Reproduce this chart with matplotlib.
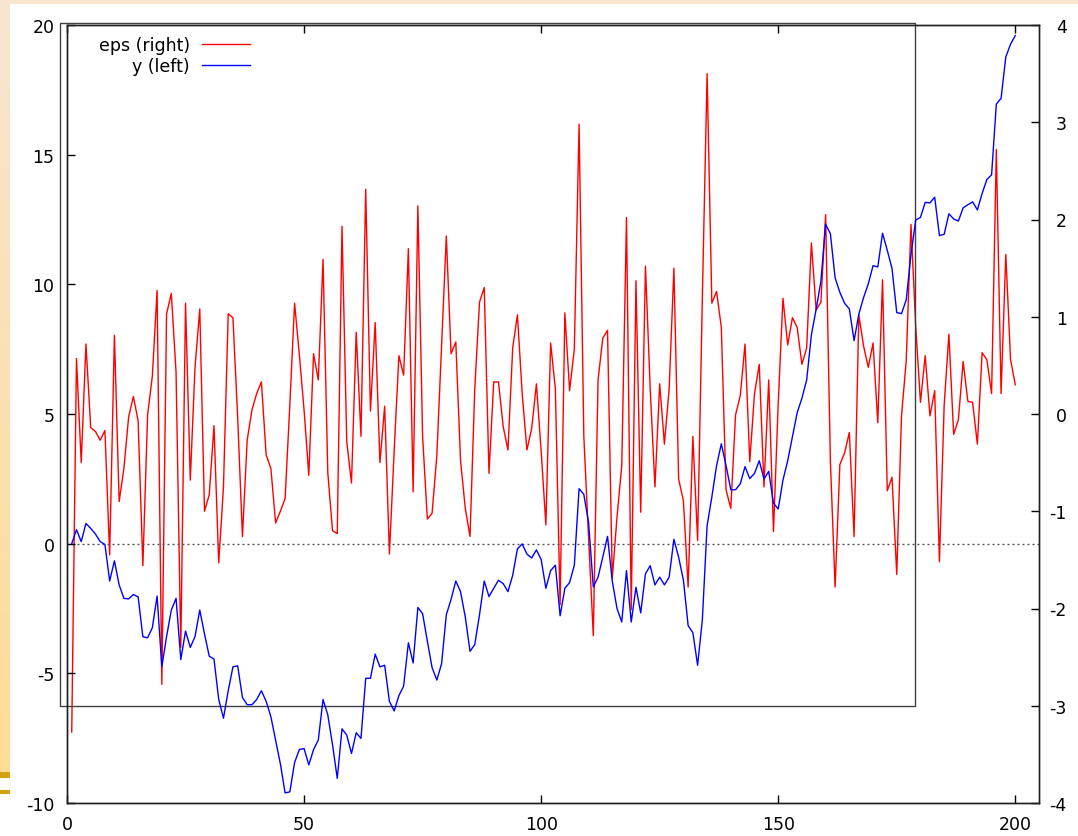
import numpy as np
import matplotlib
matplotlib.use("Agg")
import matplotlib.pyplot as plt
from matplotlib.patches import Rectangle

# ===================== 数据 =====================
# eps：白噪声（右轴），y：累积序列（左轴），t = 1..200
EPS = [
    -3.27, 0.57, -0.50, 0.72, -0.14, -0.18, -0.27, -0.17, -1.45, 0.81,
    -0.90, -0.56, -0.03, 0.18, -0.07, -1.56, -0.01, 0.39, 1.27, -2.78,
    1.03, 1.24, 0.43, -2.40, 1.14, -0.68, 0.48, 1.08, -1.00, -0.83,
    -0.12, -1.53, -0.75, 1.03, 0.99, -0.04, -1.26, -0.27, 0.04, 0.21,
    0.33, -0.42, -0.56, -1.12, -1.00, -0.87, 0.10, 1.14, 0.61, 0.04,
    -0.63, 0.62, 0.35, 1.59, -0.60, -1.20, -1.23, 1.93, -0.28, -0.71,
    0.84, -0.23, 2.31, 0.03, 0.94, -0.50, 0.08, -1.44, -0.38, 0.60,
    0.40, 1.70, -0.80, 2.14, -0.23, -1.08, -1.02, -0.43, 0.71, 1.83,
    0.62, 0.74, -0.48, -0.97, -1.26, 0.26, 1.15, 1.30, -0.61, 0.33,
    0.33, -0.13, -0.37, 0.68, 1.02, 0.21, -0.37, -0.15, 0.31, -0.38,
    -1.14, 0.73, 0.26, -1.96, 1.04, 0.24, 0.67, 2.98, -0.23, -1.27,
    -2.28, 0.35, 0.78, 0.86, -1.69, -1.06, -0.53, 2.02, -2.01, 1.37,
    -1.01, 1.52, 0.26, -0.75, 0.31, -0.31, 0.26, 1.50, -0.67, -0.89,
    -1.78, -0.23, -1.30, 1.20, 3.50, 1.14, 1.26, 0.89, -0.78, -0.97,
    -0.01, 0.19, 0.72, -0.49, 0.21, 0.51, -0.75, 0.35, -1.21, 0.11,
    1.19, 0.71, 0.99, 0.89, 0.51, 0.68, 1.76, 1.07, 1.15, 2.05,
    -0.48, -1.78, -0.52, -0.40, -0.19, -1.26, 1.02, 0.70, 0.48, 0.73,
    -0.09, 1.38, -0.79, -0.65, -1.65, -0.02, 0.55, 1.95, 0.90, 0.12,
    0.60, -0.02, 0.24, -1.52, 0.09, 0.82, -0.21, -0.06, 0.54, 0.13,
    0.12, -0.31, 0.63, 0.56, 0.21, 2.72, 0.21, 1.64, 0.56, 0.30,
]

Y = [
    0.00, 0.54, 0.08, 0.78, 0.59, 0.37, 0.08, -0.03, -1.44, -0.66,
    -1.59, -2.11, -2.13, -1.96, -2.05, -3.59, -3.63, -3.24, -2.02, -4.75,
    -3.58, -2.56, -2.11, -4.47, -3.37, -4.00, -3.58, -2.56, -3.48, -4.34,
    -4.45, -6.01, -6.73, -5.67, -4.75, -4.71, -5.93, -6.21, -6.21, -6.01,
    -5.67, -6.08, -6.67, -7.57, -8.49, -9.61, -9.57, -8.44, -7.94, -7.90,
    -8.53, -7.94, -7.57, -6.01, -6.60, -7.75, -9.05, -7.14, -7.38, -8.09,
    -7.29, -7.51, -5.19, -5.19, -4.26, -4.75, -4.69, -6.08, -6.45, -5.86,
    -5.49, -3.82, -4.60, -2.46, -2.70, -3.76, -4.78, -5.26, -4.63, -2.74,
    -2.15, -1.44, -1.85, -2.83, -4.15, -3.89, -2.74, -1.44, -2.04, -1.72,
    -1.41, -1.54, -1.85, -1.22, -0.20, -0.01, -0.40, -0.55, -0.24, -0.61,
    -1.72, -1.04, -0.83, -2.78, -1.72, -1.50, -0.83, 2.12, 1.90, 0.82,
    -1.67, -1.29, -0.52, 0.28, -1.44, -2.50, -3.02, -1.04, -3.02, -1.68,
    -2.67, -1.16, -0.85, -1.59, -1.29, -1.59, -1.29, 0.17, -0.52, -1.40,
    -3.16, -3.43, -4.69, -2.93, 0.69, 1.80, 3.01, 3.85, 3.01, 2.08,
    2.08, 2.31, 2.97, 2.51, 2.71, 3.20, 2.49, 2.79, 1.56, 1.34,
    2.45, 3.20, 4.12, 5.05, 5.61, 6.31, 8.06, 9.04, 10.12, 12.32,
    11.95, 10.25, 9.69, 9.27, 9.05, 7.83, 8.85, 9.49, 10.02, 10.72,
    10.67, 11.97, 11.31, 10.61, 8.91, 8.87, 9.40, 11.15, 12.48, 12.58,
    13.16, 13.14, 13.36, 11.88, 11.93, 12.72, 12.52, 12.44, 12.95, 13.07,
    13.18, 12.87, 13.50, 14.04, 14.22, 16.95, 17.17, 18.77, 19.26, 19.59,
]

T = np.arange(1, len(Y) + 1)

X_TICKS = [0, 50, 100, 150, 200]
Y_TICKS = [-10, -5, 0, 5, 10, 15, 20]
Y2_TICKS = [-4, -3, -2, -1, 0, 1, 2, 3, 4]

FS = 12.5
plt.rcParams['font.family'] = ['DejaVu Sans']
plt.rcParams['axes.unicode_minus'] = False

W, H = 1078, 837
fig = plt.figure(figsize=(W / 100, H / 100), dpi=100)


def fx(px):
    return px / W


def fy(py):
    return 1 - py / H


# ===================== 幻灯片背景 =====================
fig.add_artist(Rectangle((0, fy(5)), 1, 5 / H, transform=fig.transFigure,
                         color='#f7e5cf', lw=0, zorder=-5))
strip = fig.add_axes([0, fy(773), fx(10), 773 / H], zorder=-5)
top_c = np.array([247, 229, 208]) / 255
bot_c = np.array([254, 220, 150]) / 255
grad = np.linspace(0, 1, 256)[:, None, None]
strip.imshow(top_c * (1 - grad) + bot_c * grad, aspect='auto')
strip.set_axis_off()
for y0, y1 in [(773, 779), (791, 795)]:
    fig.add_artist(Rectangle((0, fy(y1)), fx(10), (y1 - y0) / H,
                             transform=fig.transFigure, color='#d4a20c', lw=0))

# ===================== 主图 =====================
ax = fig.add_axes([fx(67), fy(804), fx(1039 - 67), (804 - 26) / H])
ax2 = ax.twinx()
ax.set_zorder(ax2.get_zorder() + 1)
ax.patch.set_visible(False)

l_eps, = ax2.plot(T, EPS, color='#ff0000', lw=1.0, label='eps (right)')
l_y, = ax.plot(T, Y, color='#0000ff', lw=1.0, label='y (left)')
ax.axhline(0, color='#505050', lw=1.0, ls=(0, (1.4, 2.2)), zorder=0)

ax.set_xlim(0, 205)
ax.set_ylim(-10, 20)
ax2.set_ylim(-4, 4)
ax.set_xticks(X_TICKS)
ax.set_yticks(Y_TICKS)
ax2.set_yticks(Y2_TICKS)

ax.tick_params(axis='x', direction='in', top=True, length=6, width=1,
               labelsize=FS, pad=9)
ax.tick_params(axis='y', direction='in', right=False, length=6, width=1,
               labelsize=FS, pad=9)
# 右轴刻度标签右对齐
ax2.tick_params(axis='y', direction='in', length=6, width=1,
                labelsize=FS, pad=20)
for lbl in ax2.get_yticklabels():
    lbl.set_horizontalalignment('right')

for a in (ax, ax2):
    for sp in a.spines.values():
        sp.set_color('#202020')
        sp.set_linewidth(1.0)

ax.legend(handles=[l_eps, l_y], loc='upper right',
          bbox_to_anchor=((250 - 67) / (1039 - 67), (804 - 37) / (804 - 26)),
          frameon=False, markerfirst=False, fontsize=FS, handlelength=2.76,
          handletextpad=0.7, labelspacing=0.2, borderpad=0, borderaxespad=0)

# 外框
fig.add_artist(Rectangle((fx(59.5), fy(707)), fx(915 - 59.5), (707 - 24) / H,
                         transform=fig.transFigure, fill=False,
                         ec='#404040', lw=1.0))

plt.savefig('out.png', dpi=100)
